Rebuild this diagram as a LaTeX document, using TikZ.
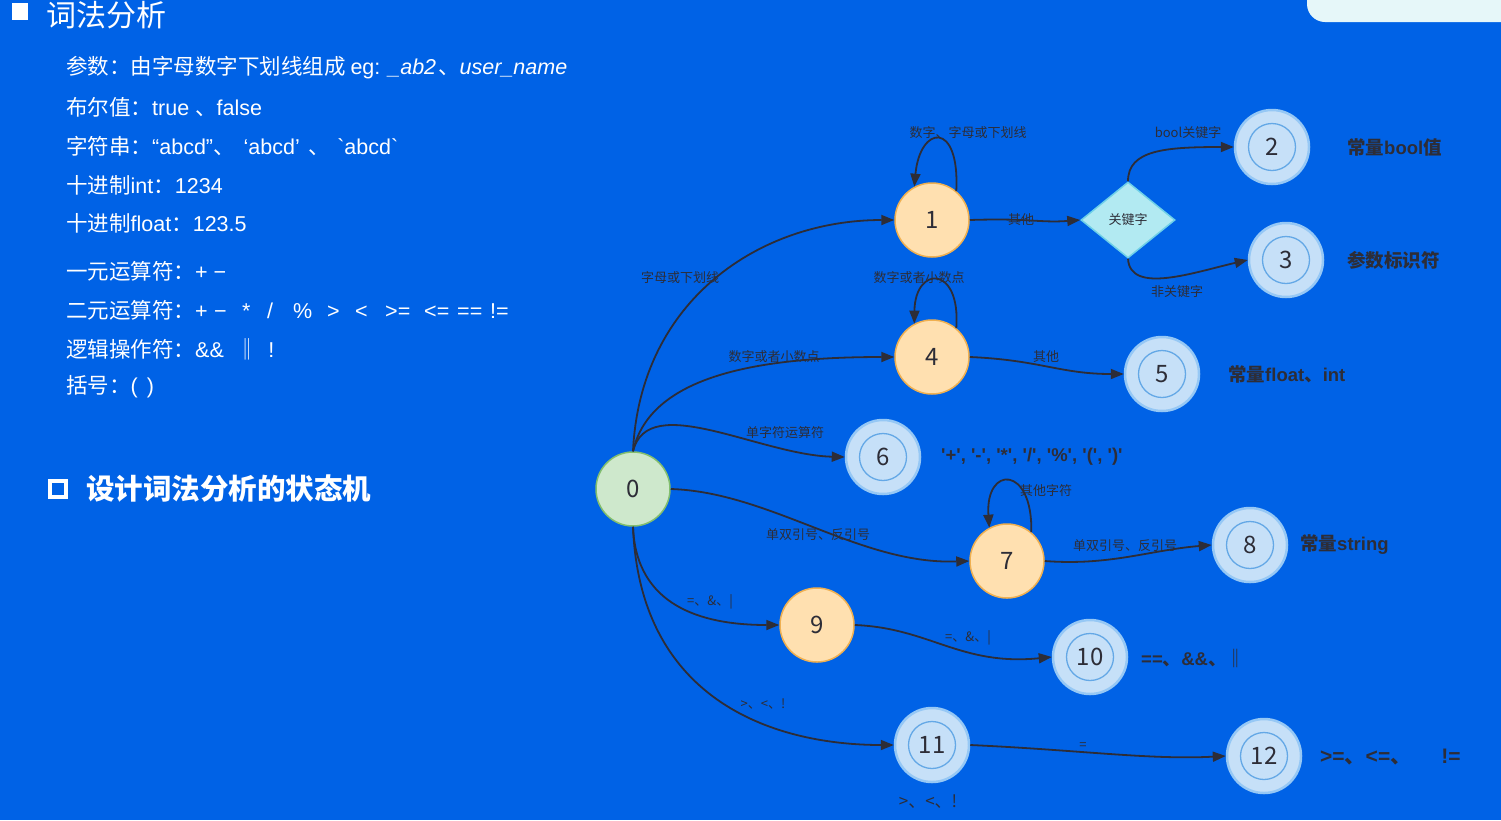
\documentclass[tikz,border=0pt]{standalone}
\usepackage{fontspec}
\setmainfont{Noto Sans CJK SC}[Ligatures=TeXOff]
\newfontfamily\lat{Liberation Sans}[Ligatures=TeXOff]
\newfontfamily\latit{Liberation Sans Italic}[Ligatures=TeXOff]
\newcommand{\enw}[1]{{\lat #1}}
\newcommand{\tok}[2]{\makebox[#1pt][l]{\lat #2}}
\usetikzlibrary{arrows.meta,shapes.geometric}
\definecolor{bg}{RGB}{0,98,230}
\definecolor{ink}{RGB}{45,45,55}
\definecolor{orfill}{RGB}{255,224,176}
\definecolor{ordraw}{RGB}{240,176,80}
\definecolor{grfill}{RGB}{206,232,204}
\definecolor{grdraw}{RGB}{130,190,110}
\definecolor{blfill}{RGB}{198,224,248}
\definecolor{bldraw}{RGB}{150,200,245}
\definecolor{blring}{RGB}{100,168,230}
\definecolor{dmfill}{RGB}{178,234,242}
\definecolor{dmdraw}{RGB}{110,208,232}
\definecolor{boxfill}{RGB}{230,247,249}
\tikzset{
  listtxt/.style={anchor=west, text=white, inner sep=0pt, font=\fontsize{21.5}{21.5}\selectfont},
  state/.style={circle, line width=1.5pt, minimum size=74pt, inner sep=0pt, text=ink, font=\fontsize{24}{24}\selectfont},
  ostate/.style={state, fill=orfill, draw=ordraw},
  gstate/.style={state, fill=grfill, draw=grdraw},
  acc/.style={state, fill=blfill, draw=bldraw, line width=2.5pt,
    path picture={\draw[blring, line width=1.3pt] (path picture bounding box.center) circle (23.5pt);}},
  elab/.style={text=ink, inner sep=0pt, font=\fontsize{13}{13}\selectfont},
  alab/.style={anchor=west, text=ink, inner sep=0pt, font=\bfseries\fontsize{18.5}{18.5}\selectfont},
  edge/.style={draw=ink, line width=1.8pt, -{Triangle[length=13pt,width=10pt]}}
}
\begin{document}
\begin{tikzpicture}[x=1pt,y=-1pt]
\useasboundingbox (0,0) rectangle (1501,820);
\fill[bg] (0,0) rectangle (1501,820);
\clip (0,0) rectangle (1501,820);
% top-right box
\fill[boxfill, rounded corners=18pt] (1307,-40) rectangle (1540,22);
% title
\fill[white] (12,3) rectangle (28,20);
\node[anchor=west, text=white, inner sep=0pt, font=\fontsize{30}{30}\selectfont] (title) at (46,15) {词法分析};
% list
\node[listtxt] (t1) at (66,68) {参数：由字母数字下划线组成 \enw{eg: }{\latit \_ab2}\hspace{2pt}、{\latit user\_name}};
\node[listtxt] (t2) at (66,107) {布尔值：\enw{true }、\enw{false}};
\node[listtxt] (t3) at (66,146) {字符串：\enw{“abcd”}、\hspace{9pt}\enw{‘abcd’}\hspace{9pt}、\hspace{7pt}\enw{`abcd`}};
\node[listtxt] (t4) at (66,185) {十进制\enw{int}：\enw{1234}};
\node[listtxt] (t5) at (66,223) {十进制\enw{float}：\enw{123.5}};
\node[listtxt] (t6) at (66,271) {一元运算符：\enw{+ −}};
\node[listtxt] (t7) at (66,310) {二元运算符：\tok{19}{+}\tok{28}{−}\tok{25}{*}\tok{26}{/}\tok{34}{\%}\tok{28}{>}\tok{30}{<}\tok{39}{>=}\tok{33}{<=}\tok{33}{==}\enw{!=}};
\node[listtxt] (t8) at (66,349) {逻辑操作符：\enw{\&\&}\hspace{13pt}‖\hspace{10pt}\enw{!}};
\node[listtxt] (t9) at (66,387) {括号：\enw{(\hspace{9pt})}};
% subtitle
\draw[white, line width=3.5pt] (50,481) rectangle (66,497);
\node[anchor=west, text=white, inner sep=0pt, font=\bfseries\fontsize{28.5}{28.5}\selectfont] (sub) at (86,489) {设计词法分析的状态机};
% states
\node[gstate] (n0) at (633,489) {0};
\node[ostate] (n1) at (932,220) {1};
\node[ostate] (n4) at (932,357) {4};
\node[ostate] (n7) at (1007,561) {7};
\node[ostate] (n9) at (817,625) {9};
\node[acc] (n2) at (1272,147) {2};
\node[acc] (n3) at (1286,260) {3};
\node[acc] (n5) at (1162,374) {5};
\node[acc] (n6) at (883,457) {6};
\node[acc] (n8) at (1250,545) {8};
\node[acc] (n10) at (1090,657) {10};
\node[acc] (n11) at (932,745) {11};
\node[acc] (n12) at (1264,756) {12};
\node[diamond, aspect=1.25, minimum width=94pt, minimum height=76pt, inner sep=0pt, fill=dmfill, draw=dmdraw, line width=1.5pt, text=ink, font=\fontsize{13}{13}\selectfont] (kw) at (1128,220) {关键字};
% edges
\draw[edge] (n0.north) .. controls (640,300) and (760,220) .. (n1.west);
\draw[edge] (n0.north) .. controls (650,375) and (760,357) .. (n4.west);
\draw[edge] (n0.north) .. controls (648,390) and (760,455) .. (n6.west);
\draw[edge] (n0.east) .. controls (770,492) and (860,565) .. (n7.west);
\draw[edge] (n0.south) .. controls (636,605) and (700,625) .. (n9.west);
\draw[edge] (n0.south) .. controls (640,705) and (780,745) .. (n11.west);
\draw[edge] (n1.50) .. controls (960,120) and (920,125) .. (n1.118);
\draw[edge] (n1.east) .. controls (1030,218) and (1040,223) .. (kw.west);
\draw[edge] (kw.north) .. controls (1128,150) and (1165,147) .. (n2.west);
\draw[edge] (kw.south) .. controls (1130,295) and (1195,272) .. (n3.west);
\draw[edge] (n4.50) .. controls (961,265) and (915,265) .. (n4.118);
\draw[edge] (n4.east) .. controls (1040,360) and (1060,374) .. (n5.west);
\draw[edge] (n7.50) .. controls (1033,465) and (985,465) .. (n7.118);
\draw[edge] (n7.east) .. controls (1110,566) and (1150,550) .. (n8.west);
\draw[edge] (n9.east) .. controls (930,628) and (960,666) .. (n10.west);
\draw[edge] (n11.east) .. controls (1080,750) and (1150,760) .. (n12.west);
% edge labels
\node[elab] (l1) at (968,133) {数字、字母或下划线};
\node[elab] (l2) at (1021,220) {其他};
\node[elab] (l3) at (1188,133) {bool关键字};
\node[elab] (l4) at (1177,292) {非关键字};
\node[elab] (l5) at (680,278) {字母或下划线};
\node[elab] (l6) at (919,278) {数字或者小数点};
\node[elab] (l7) at (774,357) {数字或者小数点};
\node[elab] (l8) at (1046,357) {其他};
\node[elab] (l9) at (785,433) {单字符运算符};
\node[elab] (l10) at (1046,491) {其他字符};
\node[elab] (l11) at (818,535) {单双引号、反引号};
\node[elab] (l12) at (1125,546) {单双引号、反引号};
\node[elab] (l13) at (710,602) {=、\&、|};
\node[elab] (l14) at (968,638) {=、\&、|};
\node[elab] (l15) at (763,704) {>、<、!};
\node[elab] (l16) at (1083,746) {=};
% accept labels
\node[alab] (a2) at (1347,147) {常量\enw{bool}值};
\node[alab] (a3) at (1347,260) {参数标识符};
\node[alab] (a5) at (1228,374) {常量\enw{float}、\enw{int}};
\node[alab] (a6) at (941,457) {\enw{'+', '-', '*', '/', '\%', '(', ')'}};
\node[alab] (a8) at (1300,545) {常量\enw{string}};
\node[alab] (a10) at (1141,658) {\enw{==}、\enw{\&\&}、‖};
\node[alab, font=\bfseries\fontsize{21}{21}\selectfont] (a12) at (1320,757) {\enw{>=}、\enw{<=}、\hspace{30pt}\enw{!=}};
\node[text=ink, inner sep=0pt, font=\fontsize{17}{17}\selectfont] (a11) at (928,802) {>、<、!};
\end{tikzpicture}
\end{document}
